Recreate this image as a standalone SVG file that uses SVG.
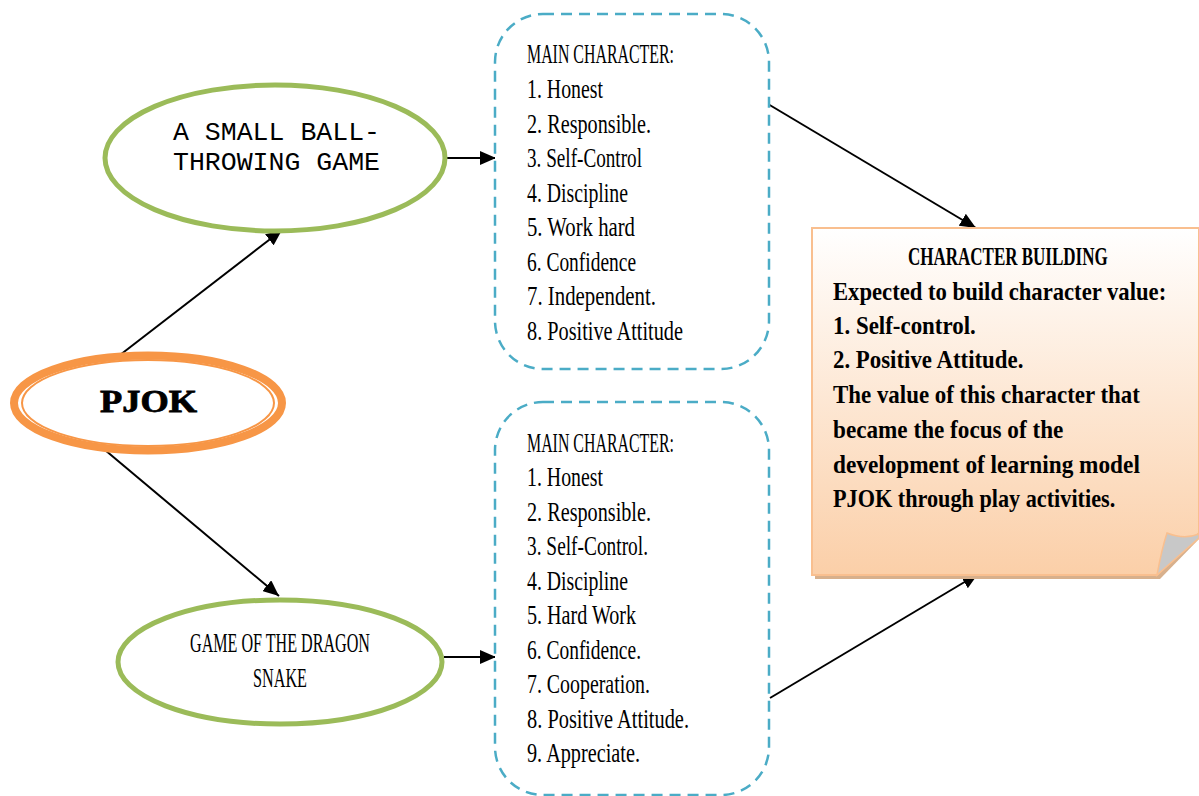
<svg xmlns="http://www.w3.org/2000/svg" width="1199" height="796" viewBox="0 0 1199 796">
<defs>
<linearGradient id="peach" x1="0" y1="0" x2="0" y2="1">
<stop offset="0" stop-color="#ffffff"/>
<stop offset="1" stop-color="#fbcfa8"/>
</linearGradient>
<marker id="arrow" viewBox="0 0 16 14" refX="16" refY="7" markerWidth="16" markerHeight="14" markerUnits="userSpaceOnUse" orient="auto">
<path d="M0,0 L16,7 L0,14 Z" fill="#000"/>
</marker>
</defs>
<style>
.list{font-family:"Liberation Serif",serif;font-size:27px;fill:#000}
.cb{font-family:"Liberation Serif",serif;font-size:26px;font-weight:bold;fill:#000}
.dash{fill:#fff;stroke:#4bacc6;stroke-width:2.5;stroke-dasharray:11,7}
.green{fill:#fff;stroke:#9bbb59;stroke-width:5}
.conn{stroke:#000;stroke-width:2;fill:none;marker-end:url(#arrow)}
</style>
<rect width="1199" height="796" fill="#fff"/>

<g id="connectors">
<line class="conn" x1="120" y1="355" x2="282" y2="230"/>
<line class="conn" x1="105" y1="450" x2="279" y2="596"/>
<line class="conn" x1="446" y1="158" x2="496" y2="158"/>
<line class="conn" x1="444" y1="657" x2="496" y2="657"/>
<line class="conn" x1="768" y1="104" x2="976" y2="228"/>
<line class="conn" x1="770" y1="698" x2="978" y2="574"/>
</g>

<g id="pjok">
<ellipse cx="148" cy="403" rx="134" ry="47.5" fill="#fff" stroke="#f79646" stroke-width="8"/>
<ellipse cx="148" cy="403" rx="126" ry="43" fill="none" stroke="#f79646" stroke-width="2"/>
<text x="100" y="412" font-family="Liberation Serif,serif" font-weight="bold" font-size="31" stroke="#000" stroke-width="0.8" textLength="97" lengthAdjust="spacingAndGlyphs">PJOK</text>
</g>

<g id="ballgame">
<ellipse class="green" cx="275" cy="158" rx="170" ry="73"/>
<text x="173" y="140" font-family="Liberation Mono,monospace" font-size="26" textLength="207" lengthAdjust="spacingAndGlyphs">A SMALL BALL-</text>
<text x="173" y="170" font-family="Liberation Mono,monospace" font-size="26" textLength="207" lengthAdjust="spacingAndGlyphs">THROWING GAME</text>
</g>

<g id="dragon">
<ellipse class="green" cx="280" cy="662" rx="162" ry="62"/>
<text class="list" x="190" y="652" font-size="26" textLength="180" lengthAdjust="spacingAndGlyphs">GAME OF THE DRAGON</text>
<text class="list" x="253" y="687" font-size="26" textLength="54" lengthAdjust="spacingAndGlyphs">SNAKE</text>
</g>

<g id="box1">
<rect class="dash" x="495" y="14" width="274" height="355" rx="48"/>
<text class="list" x="527" y="63" textLength="147" lengthAdjust="spacingAndGlyphs">MAIN CHARACTER:</text>
<text class="list" x="527" y="98" textLength="76" lengthAdjust="spacingAndGlyphs">1. Honest</text>
<text class="list" x="527" y="132.5" textLength="124" lengthAdjust="spacingAndGlyphs">2. Responsible.</text>
<text class="list" x="527" y="167" textLength="115" lengthAdjust="spacingAndGlyphs">3. Self-Control</text>
<text class="list" x="527" y="201.5" textLength="101" lengthAdjust="spacingAndGlyphs">4. Discipline</text>
<text class="list" x="527" y="236" textLength="108" lengthAdjust="spacingAndGlyphs">5. Work hard</text>
<text class="list" x="527" y="270.5" textLength="109" lengthAdjust="spacingAndGlyphs">6. Confidence</text>
<text class="list" x="527" y="305" textLength="129" lengthAdjust="spacingAndGlyphs">7. Independent.</text>
<text class="list" x="527" y="340" textLength="156" lengthAdjust="spacingAndGlyphs">8. Positive Attitude</text>
</g>

<g id="box2">
<rect class="dash" x="495" y="402" width="274" height="393" rx="48"/>
<text class="list" x="527" y="452" textLength="147" lengthAdjust="spacingAndGlyphs">MAIN CHARACTER:</text>
<text class="list" x="527" y="486" textLength="76" lengthAdjust="spacingAndGlyphs">1. Honest</text>
<text class="list" x="527" y="520.5" textLength="124" lengthAdjust="spacingAndGlyphs">2. Responsible.</text>
<text class="list" x="527" y="555" textLength="121" lengthAdjust="spacingAndGlyphs">3. Self-Control.</text>
<text class="list" x="527" y="589.5" textLength="101" lengthAdjust="spacingAndGlyphs">4. Discipline</text>
<text class="list" x="527" y="624" textLength="109" lengthAdjust="spacingAndGlyphs">5. Hard Work</text>
<text class="list" x="527" y="658.5" textLength="114" lengthAdjust="spacingAndGlyphs">6. Confidence.</text>
<text class="list" x="527" y="693" textLength="123" lengthAdjust="spacingAndGlyphs">7. Cooperation.</text>
<text class="list" x="527" y="727.5" textLength="162" lengthAdjust="spacingAndGlyphs">8. Positive Attitude.</text>
<text class="list" x="527" y="762" textLength="113" lengthAdjust="spacingAndGlyphs">9. Appreciate.</text>
</g>

<g id="character-building">
<path d="M815,232 L1202,232 L1202,536 L1160,579 L815,579 Z" fill="#d8b08c"/>
<path d="M812,228 L1199,228 L1199,533 L1157,575 L812,575 Z" fill="url(#peach)" stroke="#f9bf8f" stroke-width="2"/>
<path d="M1157,575 Q1162,548 1167,533 Q1184,540 1199,534 L1199,538 Z" fill="#c8c8c8" stroke="#f9bf8f" stroke-width="1.5"/>
<g transform="translate(833 0) scale(0.85 1)">
<text class="cb" x="88.2" y="265" font-size="24" textLength="235" lengthAdjust="spacingAndGlyphs">CHARACTER BUILDING</text>
<text class="cb" x="0" y="300" textLength="392" lengthAdjust="spacingAndGlyphs">Expected to build character value:</text>
<text class="cb" x="0" y="334" textLength="168" lengthAdjust="spacingAndGlyphs">1. Self-control.</text>
<text class="cb" x="0" y="368" textLength="224" lengthAdjust="spacingAndGlyphs">2. Positive Attitude.</text>
<text class="cb" x="0" y="403" textLength="361" lengthAdjust="spacingAndGlyphs">The value of this character that</text>
<text class="cb" x="0" y="438" textLength="271" lengthAdjust="spacingAndGlyphs">became the focus of the</text>
<text class="cb" x="0" y="473" textLength="361" lengthAdjust="spacingAndGlyphs">development of learning model</text>
<text class="cb" x="0" y="507" textLength="332" lengthAdjust="spacingAndGlyphs">PJOK through play activities.</text>
</g>
</g>
</svg>
